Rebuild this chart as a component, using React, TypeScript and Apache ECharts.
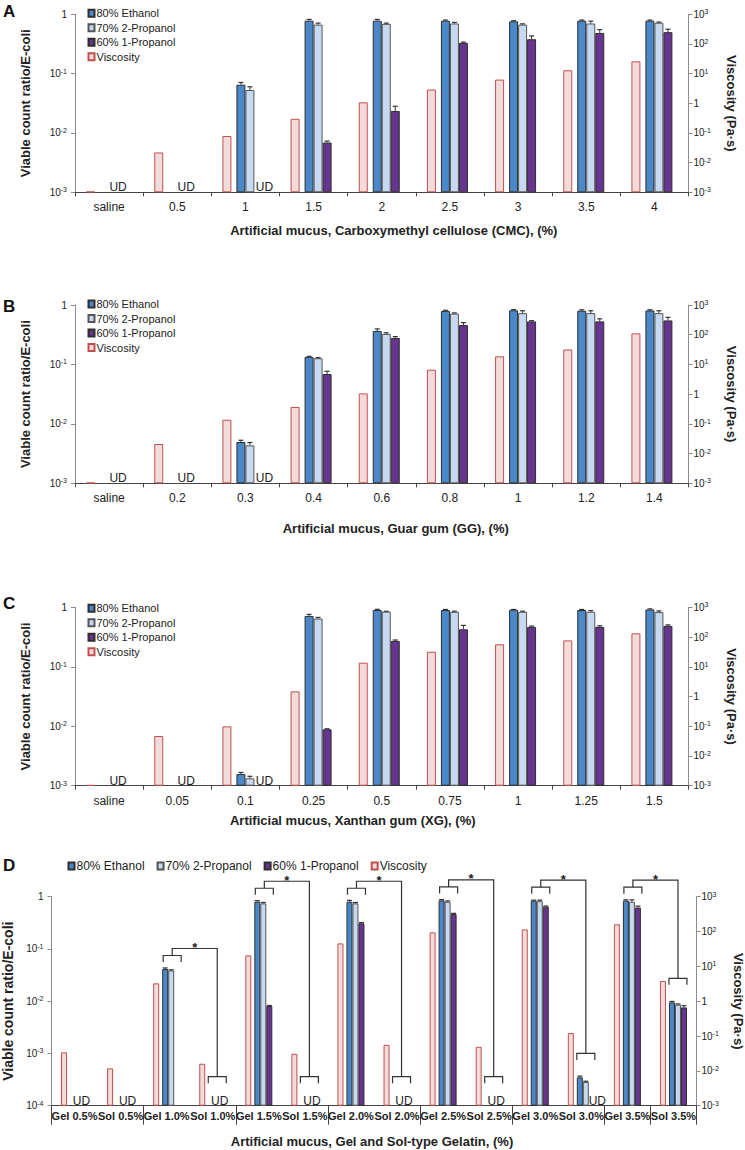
import React, { useEffect, useRef } from 'react';
import * as echarts from 'echarts';

const FONT = "'Liberation Sans', Arial, Helvetica, sans-serif";
const INK = '#222222';

const NAME_ETH = '80% Ethanol';
const NAME_IPR = '70% 2-Propanol';
const NAME_NPR = '60% 1-Propanol';
const NAME_VISC = 'Viscosity';
const LEGEND_NAMES = [NAME_ETH, NAME_IPR, NAME_NPR, NAME_VISC];

// ---------- Panel A : CMC ----------
const catsA = ['saline', '0.5', '1', '1.5', '2', '2.5', '3', '3.5', '4'];
const ethA = [null, null, 0.065, 0.78, 0.78, 0.78, 0.76, 0.78, 0.78];
const ethErrA = [null, null, 0.006, 0.04, 0.04, 0.02, 0.02, 0.02, 0.02];
const iprA = [null, null, 0.053, 0.67, 0.69, 0.7, 0.67, 0.7, 0.72];
const iprErrA = [null, null, 0.007, 0.04, 0.02, 0.03, 0.02, 0.066, 0.02];
const nprA = [null, null, null, 0.0069, 0.0235, 0.33, 0.38, 0.485, 0.5];
const nprErrA = [null, null, null, 0.0004, 0.0047, 0.01, 0.052, 0.066, 0.06];
const viscA = [0.00105, 0.022, 0.079, 0.3, 1.08, 2.9, 6.3, 13, 26];
const udAllA = ['saline', '0.5'];
const udPropA = ['1'];
const titleA = 'Artificial mucus, Carboxymethyl cellulose (CMC), (%)';

// ---------- Panel B : Guar gum ----------
const catsB = ['saline', '0.2', '0.3', '0.4', '0.6', '0.8', '1', '1.2', '1.4'];
const ethB = [null, null, 0.00495, 0.134, 0.366, 0.795, 0.815, 0.8, 0.81];
const ethErrB = [null, null, 0.00035, 0.003, 0.03, 0.02, 0.02, 0.03, 0.02];
const iprB = [null, null, 0.00435, 0.127, 0.326, 0.716, 0.73, 0.73, 0.73];
const iprErrB = [null, null, 0.0005, 0.003, 0.015, 0.02, 0.07, 0.07, 0.07];
const nprB = [null, null, null, 0.069, 0.279, 0.46, 0.53, 0.53, 0.55];
const nprErrB = [null, null, null, 0.0075, 0.015, 0.045, 0.015, 0.055, 0.07];
const viscB = [0.00105, 0.021, 0.138, 0.37, 1.06, 6.65, 18.7, 32, 111];
const udAllB = ['saline', '0.2'];
const udPropB = ['0.3'];
const titleB = 'Artificial mucus, Guar gum (GG), (%)';

// ---------- Panel C : Xanthan gum ----------
const catsC = ['saline', '0.05', '0.1', '0.25', '0.5', '0.75', '1', '1.25', '1.5'];
const ethC = [null, null, 0.00157, 0.716, 0.9, 0.9, 0.91, 0.9, 0.92];
const ethErrC = [null, null, 0.0001, 0.045, 0.025, 0.02, 0.01, 0.02, 0.02];
const iprC = [null, null, 0.00133, 0.646, 0.847, 0.84, 0.84, 0.84, 0.83];
const iprErrC = [null, null, 0.00011, 0.03, 0.01, 0.02, 0.02, 0.04, 0.04];
const nprC = [null, null, null, 0.00887, 0.272, 0.426, 0.468, 0.468, 0.486];
const nprErrC = [null, null, null, 0.0002, 0.01, 0.07, 0.015, 0.02, 0.02];
const viscC = [0.00105, 0.0468, 0.099, 1.49, 13.7, 32, 57, 77, 133];
const udAllC = ['saline', '0.05'];
const udPropC = ['0.1'];
const titleC = 'Artificial mucus, Xanthan gum (XG), (%)';

// ---------- Panel D : Gelatin ----------
const catsD = ['Gel 0.5%', 'Sol 0.5%', 'Gel 1.0%', 'Sol 1.0%', 'Gel 1.5%', 'Sol 1.5%', 'Gel 2.0%', 'Sol 2.0%',
  'Gel 2.5%', 'Sol 2.5%', 'Gel 3.0%', 'Sol 3.0%', 'Gel 3.5%', 'Sol 3.5%'];
const ethD = [null, null, 0.0413, null, 0.8, null, 0.8, null, 0.85, null, 0.84, 0.000348, 0.84, 0.0095];
const ethErrD = [null, null, 0.002, null, 0.04, null, 0.05, null, 0.03, null, 0.02, 0.00002, 0.03, 0.0004];
const iprD = [null, null, 0.0389, null, 0.745, null, 0.745, null, 0.8, null, 0.82, 0.000284, 0.8, 0.00857];
const iprErrD = [null, null, 0.001, null, 0.03, null, 0.03, null, 0.03, null, 0.04, 0.00001, 0.07, 0.0003];
const nprD = [null, null, null, null, 0.00807, null, 0.309, null, 0.466, null, 0.644, null, 0.62, 0.0076];
const nprErrD = [null, null, null, null, 0.0002, null, 0.01, null, 0.015, null, 0.02, null, 0.04, 0.0006];
const viscD = [0.034, 0.0118, 3.25, 0.016, 20.7, 0.031, 45.7, 0.056, 94.6, 0.049, 115, 0.122, 161, 3.8];
const udAllD = ['Gel 0.5%', 'Sol 0.5%', 'Sol 1.0%', 'Sol 1.5%', 'Sol 2.0%', 'Sol 2.5%'];
const udPropD = ['Sol 3.0%'];
const sigPairsD = [
  ['Gel 1.0%', 'Sol 1.0%'], ['Gel 1.5%', 'Sol 1.5%'], ['Gel 2.0%', 'Sol 2.0%'],
  ['Gel 2.5%', 'Sol 2.5%'], ['Gel 3.0%', 'Sol 3.0%'], ['Gel 3.5%', 'Sol 3.5%'],
];
const titleD = 'Artificial mucus, Gel and Sol-type Gelatin, (%)';

// ---------- layout (styling only) ----------
const panels: any[] = [
  {
    letter: 'A', cats: catsA, eth: ethA, ethErr: ethErrA, ipr: iprA, iprErr: iprErrA, npr: nprA, nprErr: nprErrA,
    visc: viscA, udAll: udAllA, udProp: udPropA, title: titleA,
    L: { top: 14.3, height: 178, left: 75, right: 56.5, dec: 3, barW: 9, gapW: 5, trailW: 5, xNameGap: 32,
      xNamePad: [0, 0, 0, 24], yGapL: 43, yGapR: 36.5, yNameFontL: 13, catFont: 12, catBold: false, catMargin: 9, tickLen: 4, tickInterval: 0,
      udAllDx: 9, udPropDx: 19, letterY: 11, legend: { orient: 'vertical', left: 87.5, top: 7.8, font: 11, gap: 3.5 } },
  },
  {
    letter: 'B', cats: catsB, eth: ethB, ethErr: ethErrB, ipr: iprB, iprErr: iprErrB, npr: nprB, nprErr: nprErrB,
    visc: viscB, udAll: udAllB, udProp: udPropB, title: titleB,
    L: { top: 305, height: 178.3, left: 75, right: 56.5, dec: 3, barW: 9, gapW: 5, trailW: 5, xNameGap: 38.5,
      xNamePad: [0, 0, 0, 28], yGapL: 43, yGapR: 36.5, yNameFontL: 13, catFont: 12, catBold: false, catMargin: 9, tickLen: 4, tickInterval: 0,
      udAllDx: 9, udPropDx: 19, letterY: 306.5, legend: { orient: 'vertical', left: 87.5, top: 298.5, font: 11, gap: 3.5 } },
  },
  {
    letter: 'C', cats: catsC, eth: ethC, ethErr: ethErrC, ipr: iprC, iprErr: iprErrC, npr: nprC, nprErr: nprErrC,
    visc: viscC, udAll: udAllC, udProp: udPropC, title: titleC,
    L: { top: 607.3, height: 178.4, left: 75, right: 56.5, dec: 3, barW: 9, gapW: 5, trailW: 5, xNameGap: 28,
      xNamePad: [0, 58, 0, 0], yGapL: 43, yGapR: 36.5, yNameFontL: 13, catFont: 12, catBold: false, catMargin: 9, tickLen: 4, tickInterval: 0,
      udAllDx: 9, udPropDx: 19, letterY: 603, legend: { orient: 'vertical', left: 87.5, top: 602.8, font: 11, gap: 3.5 } },
  },
  {
    letter: 'D', cats: catsD, eth: ethD, ethErr: ethErrD, ipr: iprD, iprErr: iprErrD, npr: nprD, nprErr: nprErrD,
    visc: viscD, udAll: udAllD, udProp: udPropD, title: titleD,
    L: { top: 896.7, height: 209, left: 51.5, right: 48.5, dec: 4, barW: 6, gapW: 3, trailW: 0, xNameGap: 29.5,
      xNamePad: [0, 4, 0, 0], yGapL: 35, yGapR: 35, yNameFontL: 14, catFont: 11, catBold: true, catMargin: 5, tickLen: 19, tickInterval: 1,
      udAllDx: 7, udPropDx: 16, letterY: 865, legend: { orient: 'horizontal', left: 67.5, top: 860, font: 12, gap: 12 } },
  },
];

const COLORS = {
  eth: { color: '#4a88c9', borderColor: '#2e2e2e' },
  ipr: { color: '#c6d9f1', borderColor: '#555555' },
  npr: { color: '#67348f', borderColor: '#2e2e2e' },
  visc: { color: '#f2dcdb', borderColor: '#c0504d' },
};

const tr = (v: number | null, off: number) => (v == null ? '-' : Math.log10(v) + off);

const supRich = {
  sup: { fontSize: 7, lineHeight: 8, verticalAlign: 'top', fontFamily: FONT, color: INK },
};
const expFormatter = (shift: number) => (val: number) => {
  const e = Math.round(val) - shift;
  return e === 0 ? '1' : `10{sup|${e}}`;
};

function buildOption() {
  const grid: any[] = [];
  const xAxis: any[] = [];
  const yAxis: any[] = [];
  const series: any[] = [];
  const legend: any[] = [];
  const graphic: any[] = [];

  panels.forEach((p, i) => {
    const L = p.L;
    const yl = 2 * i;
    const yr = 2 * i + 1;
    grid.push({ left: L.left, right: L.right, top: L.top, height: L.height, containLabel: false, outerBoundsMode: 'none' });

    xAxis.push({
      type: 'category', gridIndex: i, data: p.cats, position: 'bottom', boundaryGap: true,
      axisLine: { show: true, lineStyle: { color: '#444', width: 1 } },
      axisTick: { show: true, length: L.tickLen, interval: L.tickInterval, lineStyle: { color: '#444', width: 1 } },
      axisLabel: {
        interval: 0, margin: L.catMargin, fontSize: L.catFont, fontWeight: L.catBold ? 'bold' : 'normal',
        color: INK, fontFamily: FONT,
      },
      name: p.title, nameLocation: 'middle', nameGap: L.xNameGap,
      nameTextStyle: { fontSize: 13, fontWeight: 'bold', color: INK, fontFamily: FONT, padding: L.xNamePad },
    });

    const yCommon = {
      type: 'value', gridIndex: i, min: 0, interval: 1,
      axisLine: { show: true, lineStyle: { color: '#8c8c8c', width: 1 } },
      axisTick: { show: true, length: 4, lineStyle: { color: '#8c8c8c' } },
      splitLine: { show: false },
      nameLocation: 'middle',
    };
    yAxis.push({
      ...yCommon, position: 'left', max: L.dec,
      axisLabel: { formatter: expFormatter(L.dec), rich: supRich, fontSize: 10, lineHeight: 12, margin: 8, color: INK, fontFamily: FONT },
      name: 'Viable count ratio/E-coli', nameGap: L.yGapL,
      nameTextStyle: { fontSize: L.yNameFontL, fontWeight: 'bold', color: INK, fontFamily: FONT },
    });
    yAxis.push({
      ...yCommon, position: 'right', max: 6,
      axisLabel: { formatter: expFormatter(3), rich: supRich, fontSize: 10, lineHeight: 12, margin: 5, color: INK, fontFamily: FONT },
      name: 'Viscosity (Pa·s)', nameGap: L.yGapR, nameRotate: -90,
      nameTextStyle: { fontSize: 13, fontWeight: 'bold', color: INK, fontFamily: FONT },
    });

    // bar layout widths -> centers relative to category center
    const widths = [L.barW, L.gapW, L.barW, L.barW, L.barW].concat(L.trailW ? [L.trailW] : []);
    const total = widths.reduce((a: number, b: number) => a + b, 0);
    const centers: number[] = [];
    let acc = -total / 2;
    widths.forEach((w: number) => { centers.push(acc + w / 2); acc += w; });
    const offEth = centers[2];
    const offIpr = centers[3];
    const offNpr = centers[4];

    const emptyData = p.cats.map(() => '-');
    series.push({
      type: 'bar', name: NAME_VISC, xAxisIndex: i, yAxisIndex: yr, barWidth: L.barW, barGap: '0%',
      data: p.visc.map((v: number) => tr(v, 3)), itemStyle: { ...COLORS.visc, borderWidth: 1 }, silent: true,
    });
    series.push({ type: 'bar', name: '_gap', xAxisIndex: i, yAxisIndex: yl, barWidth: L.gapW, barGap: '0%', data: emptyData, silent: true });
    series.push({
      type: 'bar', name: NAME_ETH, xAxisIndex: i, yAxisIndex: yl, barWidth: L.barW, barGap: '0%',
      data: p.eth.map((v: number) => tr(v, L.dec)), itemStyle: { ...COLORS.eth, borderWidth: 1 }, silent: true,
    });
    series.push({
      type: 'bar', name: NAME_IPR, xAxisIndex: i, yAxisIndex: yl, barWidth: L.barW, barGap: '0%',
      data: p.ipr.map((v: number) => tr(v, L.dec)), itemStyle: { ...COLORS.ipr, borderWidth: 1 }, silent: true,
    });
    series.push({
      type: 'bar', name: NAME_NPR, xAxisIndex: i, yAxisIndex: yl, barWidth: L.barW, barGap: '0%',
      data: p.npr.map((v: number) => tr(v, L.dec)), itemStyle: { ...COLORS.npr, borderWidth: 1 }, silent: true,
    });
    if (L.trailW) {
      series.push({ type: 'bar', name: '_trail', xAxisIndex: i, yAxisIndex: yl, barWidth: L.trailW, barGap: '0%', data: emptyData, silent: true });
    }

    // error bars
    const errSeries = (vals: any[], errs: any[], offset: number) => {
      const data: any[] = [];
      vals.forEach((v: number | null, k: number) => {
        const e = errs[k];
        if (v != null && e != null) data.push([k, Math.log10(v) + L.dec, Math.log10(v + e) + L.dec]);
      });
      return {
        type: 'custom', name: '_err', xAxisIndex: i, yAxisIndex: yl, data, silent: true, z: 3,
        encode: { x: 0, y: [1, 2] },
        renderItem: (_params: any, api: any) => {
          const base = api.coord([api.value(0), api.value(1)]);
          const top = api.coord([api.value(0), api.value(2)]);
          const x = base[0] + offset;
          return {
            type: 'group',
            children: [
              { type: 'line', shape: { x1: x, y1: base[1], x2: x, y2: top[1] }, style: { stroke: '#333', lineWidth: 1 } },
              { type: 'line', shape: { x1: x - 2.5, y1: top[1], x2: x + 2.5, y2: top[1] }, style: { stroke: '#333', lineWidth: 1.2 } },
            ],
          };
        },
      };
    };
    series.push(errSeries(p.eth, p.ethErr, offEth));
    series.push(errSeries(p.ipr, p.iprErr, offIpr));
    series.push(errSeries(p.npr, p.nprErr, offNpr));

    // UD labels
    const udData: any[] = [];
    p.udAll.forEach((c: string) => udData.push([p.cats.indexOf(c), 0, 0]));
    p.udProp.forEach((c: string) => udData.push([p.cats.indexOf(c), 0, 1]));
    series.push({
      type: 'custom', name: '_ud', xAxisIndex: i, yAxisIndex: yl, data: udData, silent: true, z: 4,
      encode: { x: 0, y: 1 },
      renderItem: (_params: any, api: any) => {
        const pt = api.coord([api.value(0), api.value(1)]);
        const dx = api.value(2) === 1 ? L.udPropDx : L.udAllDx;
        return {
          type: 'text', x: pt[0] + dx, y: pt[1] + 1,
          style: { text: 'UD', fontSize: 12, fontFamily: FONT, fill: INK, align: 'center', verticalAlign: 'bottom' },
        };
      },
    });

    // legend
    legend.push({
      data: LEGEND_NAMES, orient: L.legend.orient, left: L.legend.left, top: L.legend.top,
      itemWidth: 6, itemHeight: 7, itemGap: L.legend.gap, icon: 'rect', selectedMode: false, padding: 0,
      textStyle: { fontSize: L.legend.font, lineHeight: L.legend.font, color: INK, fontFamily: FONT, padding: [0, 0, 0, -3] },
    });

    // panel letter
    graphic.push({
      type: 'text', x: 3, y: L.letterY,
      style: { text: p.letter, fontSize: 17, fontWeight: 'bold', fontFamily: FONT, fill: '#111', verticalAlign: 'middle' },
    });

    // significance brackets in D
    if (p.letter === 'D') {
      const pick = (idx: number) => [p.eth[idx], p.ipr[idx], p.npr[idx]].filter((v: any) => v != null) as number[];
      const brData = sigPairsD.map(([g, s]) => {
        const gi = p.cats.indexOf(g);
        const si = p.cats.indexOf(s);
        const gv = pick(gi);
        const sv = pick(si);
        const gMax = Math.max(...gv);
        const sMax = sv.length ? Math.max(...sv) : null;
        return [gi, Math.log10(gMax) + L.dec, si, sMax == null ? 0 : Math.log10(sMax) + L.dec, sMax == null ? 1 : 0];
      });
      series.push({
        type: 'custom', name: '_sig', xAxisIndex: i, yAxisIndex: yl, data: brData, silent: true, z: 5,
        encode: { x: 0, y: 1 },
        renderItem: (_params: any, api: any) => {
          const g = api.coord([api.value(0), api.value(1)]);
          const s = api.coord([api.value(2), api.value(3)]);
          const isUD = api.value(4) === 1;
          const xg = g[0] + offIpr + 1;
          const xs = s[0] + offIpr;
          const gTop = g[1] - 13.5;
          const sTop = s[1] - (isUD ? 29 : 24);
          const yTop = gTop - 7;
          const hw = 9;
          const leg = 6.5;
          const st = { stroke: '#333', lineWidth: 1.2, fill: 'none' };
          return {
            type: 'group',
            children: [
              { type: 'polyline', shape: { points: [[xg - hw, gTop + leg], [xg - hw, gTop], [xg + hw, gTop], [xg + hw, gTop + leg]] }, style: st },
              { type: 'polyline', shape: { points: [[xs - hw, sTop + leg], [xs - hw, sTop], [xs + hw, sTop], [xs + hw, sTop + leg]] }, style: st },
              { type: 'polyline', shape: { points: [[xg, gTop], [xg, yTop], [xs, yTop], [xs, sTop]] }, style: st },
              {
                type: 'text', x: (xg + xs) / 2, y: yTop - 1,
                style: { text: '*', fontSize: 13, lineHeight: 6, fontWeight: 'bold', fontFamily: FONT, fill: INK, align: 'center', verticalAlign: 'middle' },
              },
            ],
          };
        },
      });

      // bottom border of the category table
      xAxis.push({
        type: 'category', gridIndex: i, data: p.cats, position: 'bottom', offset: L.tickLen,
        axisLine: { show: true, lineStyle: { color: '#444', width: 1 } },
        axisTick: { show: false }, axisLabel: { show: false },
      });
    }
  });

  return { animation: false, backgroundColor: '#ffffff', grid, xAxis, yAxis, series, legend, graphic };
}

export default function App() {
  const ref = useRef<HTMLDivElement>(null);
  useEffect(() => {
    document.body.style.margin = '0';
    if (!ref.current) return;
    const chart = echarts.init(ref.current, undefined, { renderer: 'svg' });
    chart.setOption(buildOption() as any);
    return () => chart.dispose();
  }, []);
  return <div ref={ref} style={{ width: 745, height: 1150 }} />;
}
